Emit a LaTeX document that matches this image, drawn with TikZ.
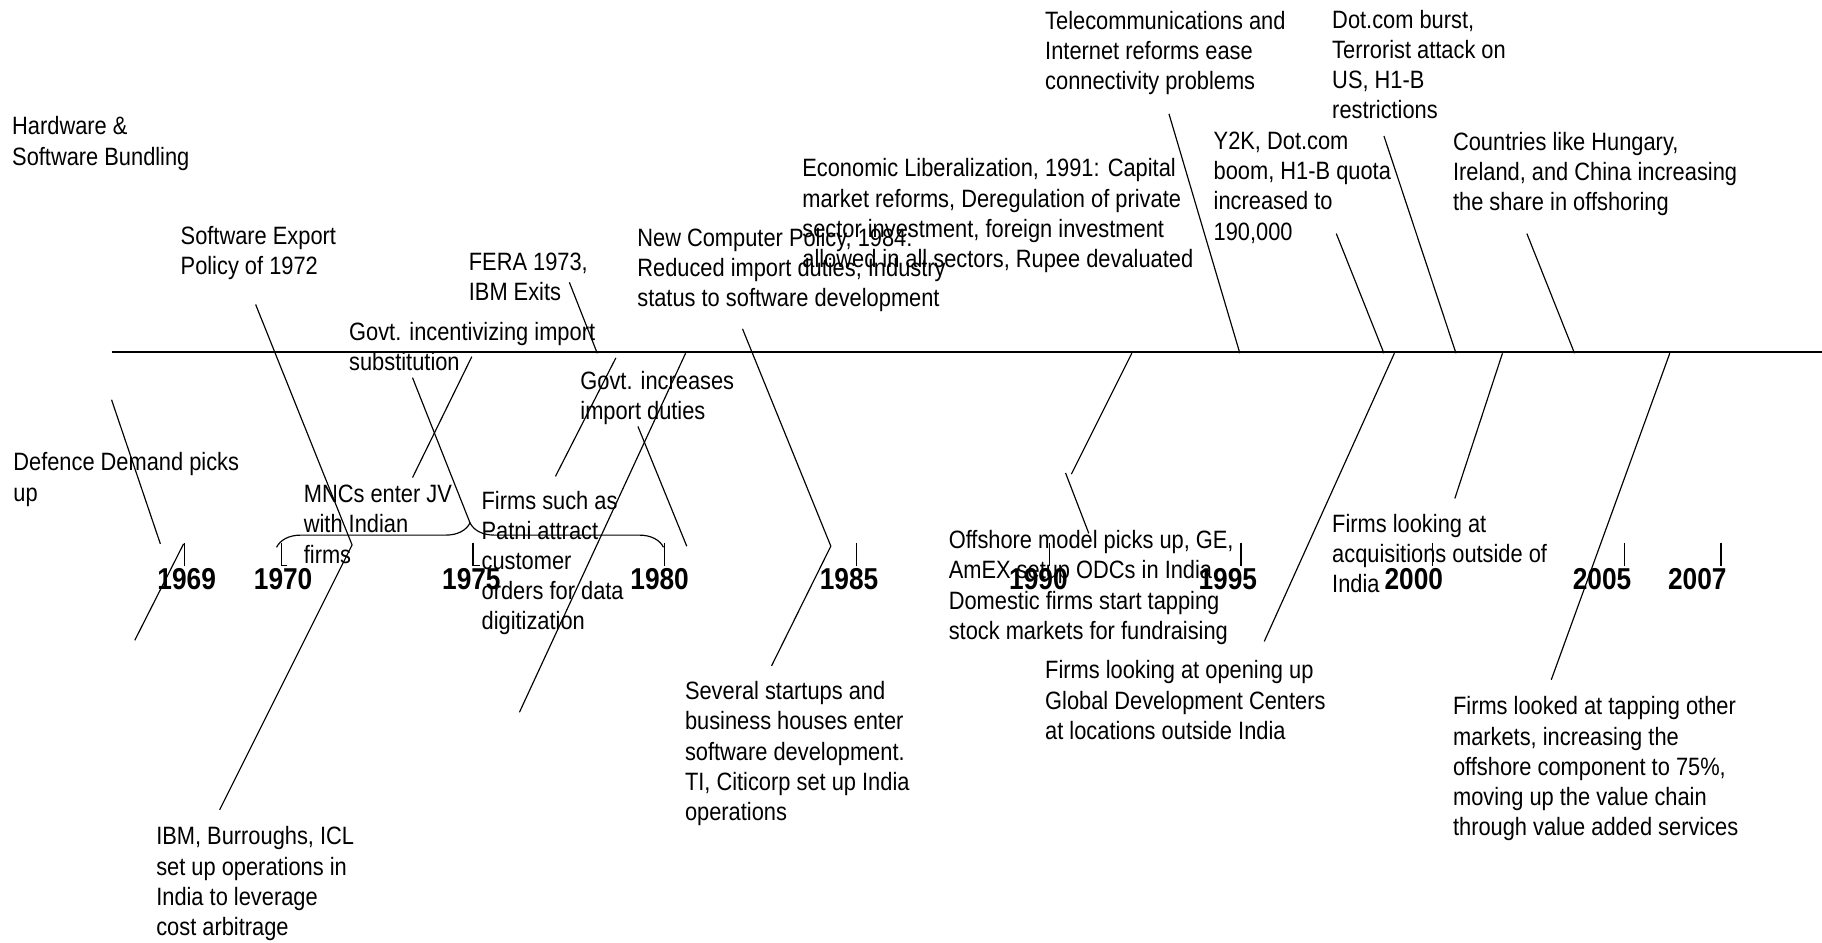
\documentclass[tikz,border=0pt]{standalone}
\usepackage{fontspec}
\setmainfont{Liberation Sans}[FakeStretch=0.87]
\usetikzlibrary{decorations.pathreplacing}

\begin{document}
\begin{tikzpicture}[x=0.5pt, y=-0.5pt, line width=0.5pt,
  txt/.style={anchor=north west, inner sep=0pt, align=left, font=\fontsize{10.8}{13}\selectfont},
  yr/.style={anchor=north west, inner sep=0pt, font=\fontsize{13}{15}\selectfont\bfseries}]
\useasboundingbox (0,0) rectangle (1568,811);

\coordinate (start) at (96,303);
\coordinate (end) at (1568,303);
\draw [line width=0.7pt] (start) -- (end);

\foreach \yy/\tx/\lx/\ft in {1969/159/135/0, 1970/242/218/5, 1975/407/380/6, 1980/572/542/0,
  1985/737/705/0, 1990/903/868/0, 1995/1068/1031/0, 2000/1233/1191/0, 2005/1398/1353/0, 2007/1481/1435/0} {
  \draw (\tx,467) -- (\tx,487) -- ++(\ft,0);
  \node[yr] (y\yy) at (\lx,489) {\yy};
}

\coordinate (brL) at (238,471);
\coordinate (brR) at (571,471);
\draw [decorate, decoration={brace, amplitude=10.5pt}] (brL) -- (brR);

\node[txt] (hwsw) at (10,100) {Hardware \&\\Software Bundling};
\node[txt] (swexp) at (155,194) {Software Export\\Policy of 1972};
\node[txt] (fera) at (403,217) {FERA 1973,\\IBM Exits};
\node[txt] (govimp) at (300,277) {Govt. incentivizing import\\substitution};
\node[txt] (govduty) at (499,319) {Govt. increases\\import duties};
\node[txt] (ncp) at (548,196) {New Computer Policy, 1984:\\Reduced import duties, Industry\\status to software development};
\node[txt] (econlib) at (690,136) {Economic Liberalization, 1991: Capital\\market reforms, Deregulation of private\\sector investment, foreign investment\\allowed in all sectors, Rupee devaluated};
\node[txt] (telecom) at (899,9) {Telecommunications and\\Internet reforms ease\\connectivity problems};
\node[txt] (dotburst) at (1146,8) {Dot.com burst,\\Terrorist attack on\\US, H1-B\\restrictions};
\node[txt] (ytwok) at (1044,113) {Y2K, Dot.com\\boom, H1-B quota\\increased to\\190,000};
\node[txt] (hungary) at (1250,113) {Countries like Hungary,\\Ireland, and China increasing\\the share in offshoring};
\node[txt] (defence) at (11,389) {Defence Demand picks\\up};
\node[txt] (mnc) at (261,417) {MNCs enter JV\\with Indian\\firms};
\node[txt] (patni) at (414,422) {Firms such as\\Patni attract\\customer\\orders for data\\digitization};
\node[txt] (offshore) at (816,456) {Offshore model picks up, GE,\\AmEX setup ODCs in India\\Domestic firms start tapping\\stock markets for fundraising};
\node[txt] (startups) at (589,586) {Several startups and\\business houses enter\\software development.\\TI, Citicorp set up India\\operations};
\node[txt] (gdc) at (899,568) {Firms looking at opening up\\Global Development Centers\\at locations outside India};
\node[txt] (acq) at (1146,442) {Firms looking at\\acquisitions outside of\\India};
\node[txt] (tapping) at (1250,599) {Firms looked at tapping other\\markets, increasing the\\offshore component to 75\%,\\moving up the value chain\\through value added services};
\node[txt] (ibm) at (134,711) {IBM, Burroughs, ICL\\set up operations in\\India to leverage\\cost arbitrage};

\coordinate (defA) at (96,344);    \coordinate (defB) at (138,468);
\coordinate (y69A) at (158,468);   \coordinate (y69B) at (116,551);
\coordinate (swA) at (220,262);    \coordinate (kinkA) at (303,469);
\coordinate (ibmA) at (189,697);
\coordinate (subA) at (406,307);   \coordinate (mncA) at (355,411);
\coordinate (subB) at (355,325);   \coordinate (brtip) at (404.5,450);
\coordinate (feraA) at (490,243);  \coordinate (feraB) at (514,304);
\coordinate (patA) at (530,308);   \coordinate (patB) at (478,410);
\coordinate (dutA) at (590,304);   \coordinate (dutB) at (447,613);
\coordinate (dutC) at (549,367);   \coordinate (dutD) at (591,470);
\coordinate (ncpA) at (639,283);   \coordinate (kinkB) at (715,470);
\coordinate (startA) at (664,573);
\coordinate (libA) at (974,304);   \coordinate (libB) at (922,408);
\coordinate (offA) at (917,407);   \coordinate (offB) at (937,459);
\coordinate (telA) at (1006,98);   \coordinate (telB) at (1067,304);
\coordinate (y2kA) at (1150,201);  \coordinate (y2kB) at (1191,304);
\coordinate (burA) at (1191,117);  \coordinate (burB) at (1253,304);
\coordinate (hunA) at (1314,201);  \coordinate (hunB) at (1355,304);
\coordinate (gdcA) at (1200,304);  \coordinate (gdcB) at (1088,552);
\coordinate (acqA) at (1293,304);  \coordinate (acqB) at (1252,429);
\coordinate (tapA) at (1437,304);  \coordinate (tapB) at (1335,585);

\draw (defA) -- (defB);
\draw (y69A) -- (y69B);
\draw (swA) -- (kinkA) -- (ibmA);
\draw (subA) -- (mncA);
\draw (subB) -- (brtip);
\draw (feraA) -- (feraB);
\draw (patA) -- (patB);
\draw (dutA) -- (dutB);
\draw (dutC) -- (dutD);
\draw (ncpA) -- (kinkB) -- (startA);
\draw (libA) -- (libB);
\draw (offA) -- (offB);
\draw (telA) -- (telB);
\draw (y2kA) -- (y2kB);
\draw (burA) -- (burB);
\draw (hunA) -- (hunB);
\draw (gdcA) -- (gdcB);
\draw (acqA) -- (acqB);
\draw (tapA) -- (tapB);

\end{tikzpicture}
\end{document}
